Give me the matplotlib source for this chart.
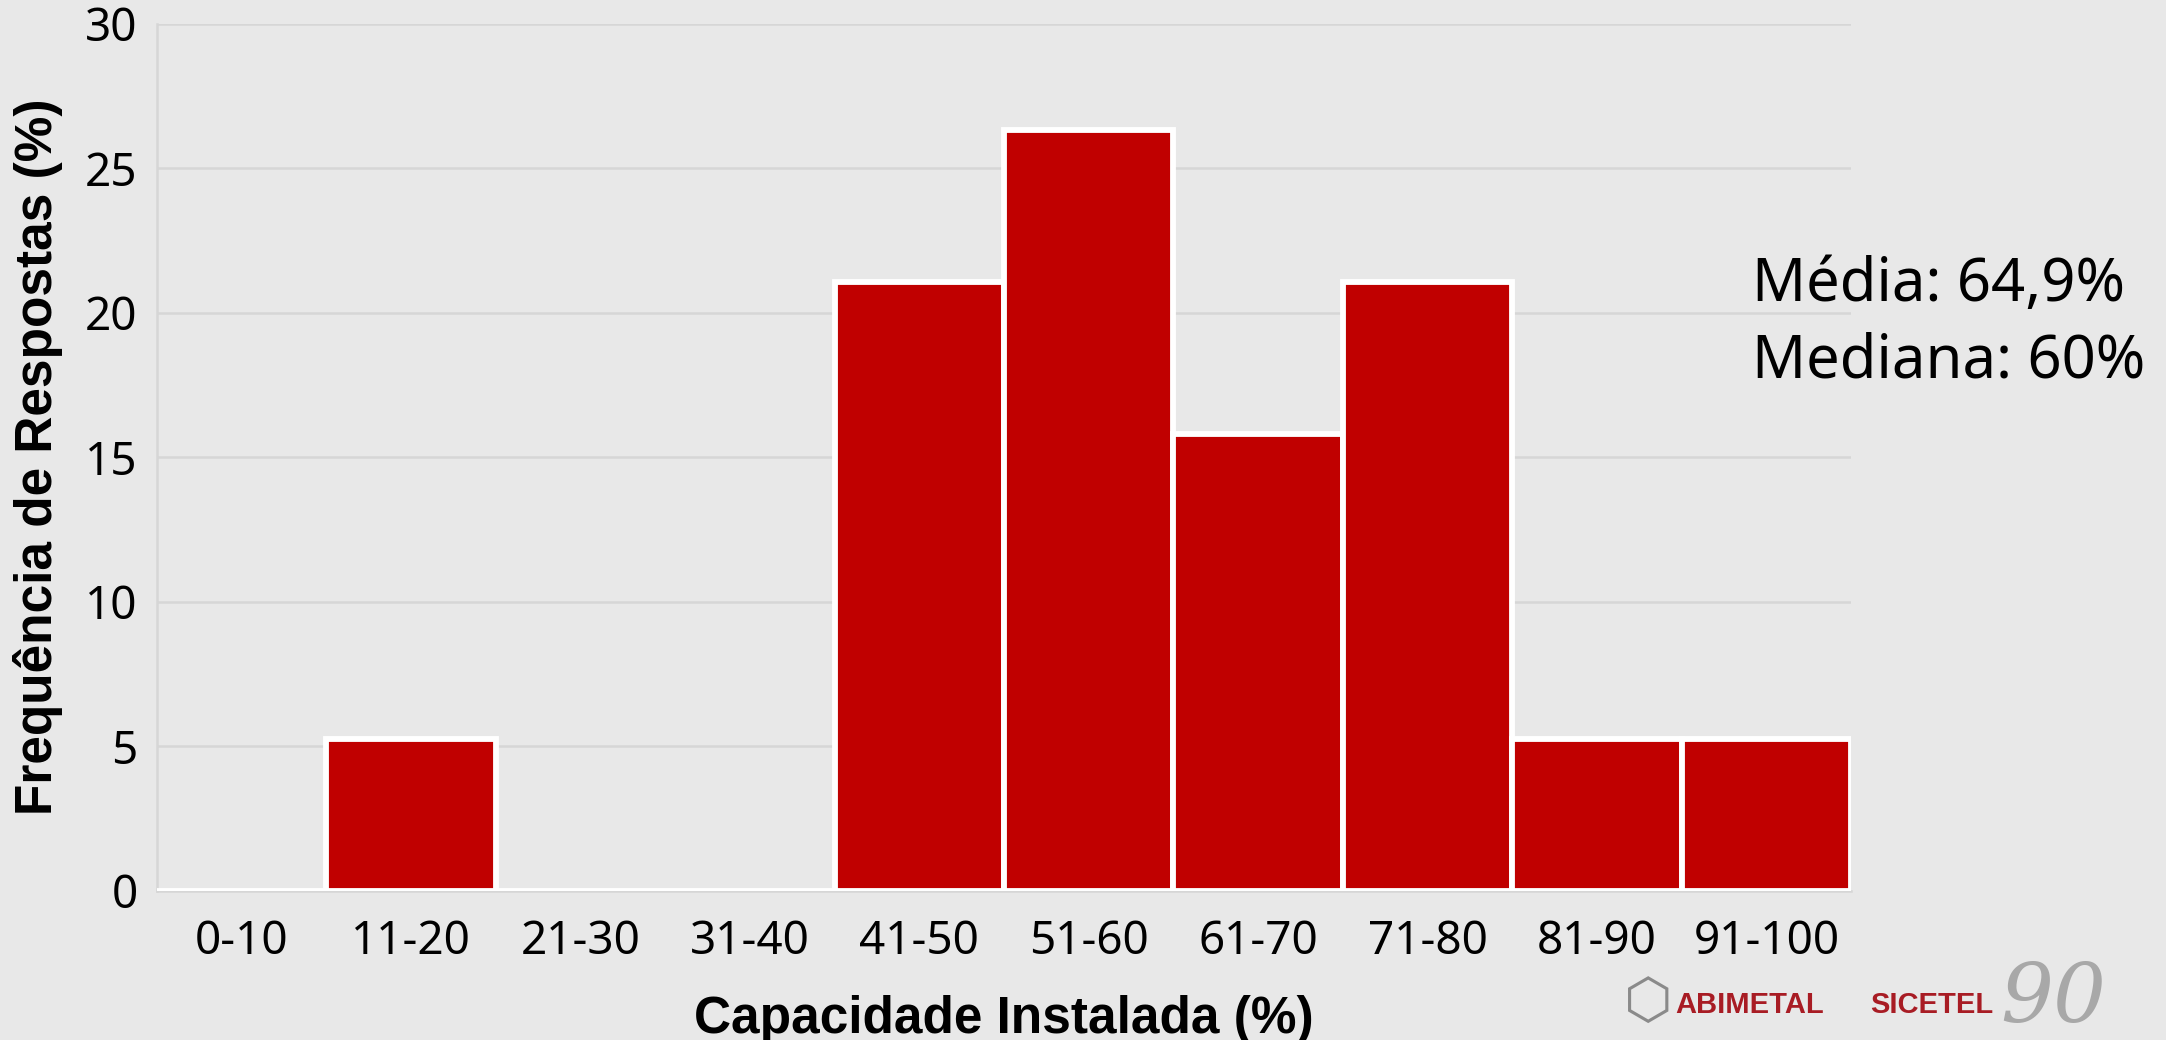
import matplotlib
matplotlib.use('Agg')
import matplotlib.pyplot as plt

# faixas de capacidade instalada e frequencia (%) de respostas
faixas = ['0-10', '11-20', '21-30', '31-40', '41-50', '51-60', '61-70', '71-80', '81-90', '91-100']
frequencia = [0, 5.26, 0, 0, 21.05, 26.32, 15.79, 21.05, 5.26, 5.26]
yticks = [0, 5, 10, 15, 20, 25, 30]
resumo = ['Média: 64,9%', 'Mediana: 60%']

BG = '#e8e8e8'
GRID = '#d6d6d6'
RED = '#c00000'

fig = plt.figure(figsize=(21.66, 10.4), dpi=100, facecolor=BG)
ax = fig.add_axes([0.0725, 0.1433, 0.7821, 0.8341])
ax.set_facecolor(BG)

x = list(range(len(faixas)))
ax.bar(x, frequencia, width=1.0, color=RED, edgecolor='white', linewidth=4.2, zorder=3)

ax.set_xlim(-0.5, len(faixas) - 0.5)
ax.set_ylim(0, 30)
ax.set_yticks(yticks)
ax.set_xticks(x)
ax.set_xticklabels(faixas)
ax.grid(axis='y', color=GRID, linewidth=1.8, zorder=0)
ax.set_axisbelow(True)

for s in ['top', 'right']:
    ax.spines[s].set_visible(False)
for s in ['left', 'bottom']:
    ax.spines[s].set_color(GRID)
    ax.spines[s].set_linewidth(1.8)

ax.tick_params(axis='both', length=0, labelsize=33)
ax.tick_params(axis='y', pad=14)
ax.tick_params(axis='x', pad=20)
for lab in ax.get_xticklabels() + ax.get_yticklabels():
    lab.set_fontfamily('Noto Sans')

ax.set_xlabel('Capacidade Instalada (%)', fontsize=37, fontweight='bold',
              family='Liberation Sans', labelpad=22)
ax.set_ylabel('Frequência de Respostas (%)', fontsize=37, fontweight='bold',
              family='Liberation Sans', labelpad=16)

fig.text(1752 / 2166, 1 - 285 / 1040, resumo[0], fontsize=43, family='Noto Sans',
         va='center', ha='left')
fig.text(1752 / 2166, 1 - 362 / 1040, resumo[1], fontsize=43, family='Noto Sans',
         va='center', ha='left')

# logos no canto inferior direito
fig.text(1648 / 2166, 1 - 1003 / 1040, '\u2B21', fontsize=40, family='DejaVu Sans',
         color='#8a8a8a', va='center', ha='center')
fig.text(1675 / 2166, 1 - 1005 / 1040, 'ABIMETAL', fontsize=21, fontweight='bold',
         family='Liberation Sans', color='#a81c24', va='center', ha='left')
fig.text(1870 / 2166, 1 - 1005 / 1040, 'SICETEL', fontsize=21, fontweight='bold',
         family='Liberation Sans', color='#a81c24', va='center', ha='left')
fig.text(2000 / 2166, 1 - 1000 / 1040, '90', fontsize=60, style='italic',
         family='DejaVu Serif', color='#a8a8a8', va='center', ha='left')

fig.savefig('out.png', dpi=100, facecolor=BG)
